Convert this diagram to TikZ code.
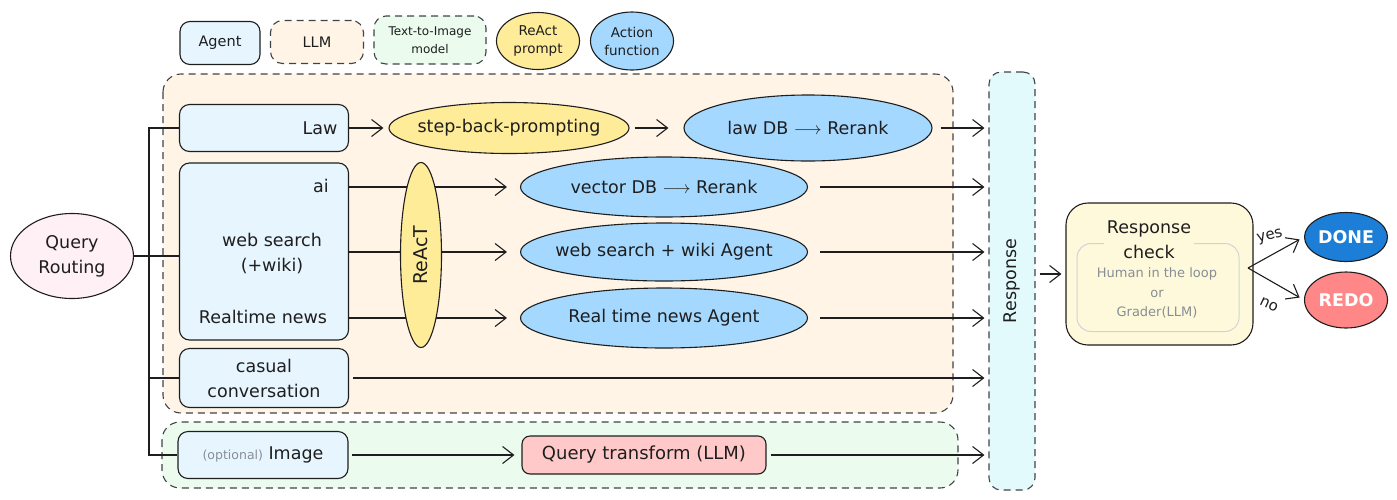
\documentclass[tikz,border=0pt]{standalone}
\usepackage{fontspec}
\setmainfont{DejaVu Sans}
\usetikzlibrary{shapes.geometric,arrows.meta}
\definecolor{ink}{HTML}{1E1E1E}
\definecolor{dashc}{HTML}{3F4449}
\definecolor{agentfill}{HTML}{E7F5FF}
\definecolor{llmfill}{HTML}{FFF4E6}
\definecolor{tifill}{HTML}{EBFBEE}
\definecolor{yelfill}{HTML}{FFEC99}
\definecolor{blufill}{HTML}{A5D8FF}
\definecolor{respfill}{HTML}{E3FAFC}
\definecolor{chkfill}{HTML}{FFF9DB}
\definecolor{qtfill}{HTML}{FFC9C9}
\definecolor{qrfill}{HTML}{FFF0F6}
\definecolor{donefill}{HTML}{1C7ED6}
\definecolor{redofill}{HTML}{FF8787}
\definecolor{greytext}{HTML}{868E96}
\definecolor{innerline}{HTML}{CED4DA}
\newcommand\fsz[2]{\fontsize{#1}{#2}\selectfont}
\tikzset{
  base/.style={draw=ink, line width=1.1pt, inner sep=0pt, text=ink, font=\fsz{17.5}{25}, align=center},
  agentbox/.style={base, rounded corners=10pt, fill=agentfill},
  llmbox/.style={base, draw=dashc, dash pattern=on 7pt off 5pt, rounded corners=12pt, fill=llmfill},
  tibox/.style={base, draw=dashc, dash pattern=on 7pt off 5pt, rounded corners=12pt, fill=tifill},
  ell/.style={base, ellipse, inner xsep=-22pt, inner ysep=-4pt},
  reactell/.style={ell, fill=yelfill},
  actell/.style={ell, fill=blufill},
  container/.style={draw=dashc, line width=1.1pt, dash pattern=on 7pt off 5pt, rounded corners=18pt},
  conn/.style={draw=ink, line width=1.1pt},
  arr/.style={conn, -{Straight Barb[length=11pt,width=17pt,line width=1.1pt]}},
  lbl/.style={inner sep=0pt, text=ink, font=\fsz{17.5}{25}, align=center},
}
\begin{document}
\begin{tikzpicture}[x=1pt,y=-1pt]
\useasboundingbox (0,0) rectangle (1397,499);
% legend
\node[agentbox, minimum width=80pt, minimum height=43pt, font=\fsz{14.5}{18}] (lgA) at (220,43) {Agent};
\node[llmbox, minimum width=93pt, minimum height=43pt, font=\fsz{14.5}{18}] (lgL) at (317,42) {LLM};
\node[tibox, minimum width=112pt, minimum height=48pt, font=\fsz{12}{18}] (lgT) at (430,40) {Text-to-Image\\model};
\node[reactell, minimum width=83pt, minimum height=57pt, font=\fsz{13.5}{18}] (lgR) at (538,41) {ReAct\\prompt};
\node[actell, minimum width=83pt, minimum height=58pt, font=\fsz{13.5}{18}] (lgF) at (632,41) {Action\\function};
% containers
\draw[container, fill=llmfill] (163,74) rectangle (953,413);
\draw[container, fill=tifill] (162,422) rectangle (958,488);
\node[base, draw=dashc, dash pattern=on 7pt off 5pt, rounded corners=12pt, fill=respfill, minimum width=46pt, minimum height=418pt] (resp) at (1012,281) {};
\node[lbl, rotate=90] (resptxt) at (1012,281) {Response};
% query routing
\node[ell, fill=qrfill, minimum width=123pt, minimum height=85pt] (qr) at (72,256) {Query\\Routing};
% agent boxes
\node[agentbox, minimum width=169pt, minimum height=47pt, text width=147pt, align=right] (law) at (264,128) {Law};
\node[agentbox, minimum width=169pt, minimum height=177pt] (big) at (264,251.5) {};
\node[lbl] (ai) at (321,186) {ai};
\node[lbl] (web) at (272,253) {web search\\(+wiki)};
\node[lbl] (news) at (263,317) {Realtime news};
\node[agentbox, minimum width=169pt, minimum height=59pt] (casual) at (264,378) {casual\\conversation};
\node[agentbox, minimum width=170pt, minimum height=47pt] (img) at (263,455) {{\color{greytext}\fsz{12.5}{14}(optional)} Image};
% tree
\coordinate (trunk) at (149,0);
\draw[conn] (qr.east) -- (qr.east -| big.west);
\draw[conn] (law.west) -- (law.west -| trunk) -- (img.west -| trunk) -- (img.west);
\draw[conn] (casual.west -| trunk) -- (casual.west);
% law row
\node[reactell, minimum width=240pt, minimum height=51pt] (sbp) at (509,128) {step-back-prompting};
\node[actell, minimum width=248pt, minimum height=66pt] (lawdb) at (808,128) {law DB $\longrightarrow$ Rerank};
\draw[arr, shorten >=5pt] (law.east) -- (sbp.west);
\draw[arr, shorten <=5pt, shorten >=15pt] (sbp.east) -- (lawdb.west);
% ReAct rows
\node[actell, minimum width=287pt, minimum height=60pt] (vdb) at (664,187) {vector DB $\longrightarrow$ Rerank};
\node[actell, minimum width=287pt, minimum height=58pt] (wsa) at (664,252) {web search + wiki Agent};
\node[actell, minimum width=287pt, minimum height=60pt] (rtn) at (664,318) {Real time news Agent};
\draw[arr, shorten >=13pt] (big.east |- vdb.west) -- (vdb.west);
\draw[arr, shorten >=13pt] (big.east |- wsa.west) -- (wsa.west);
\draw[arr, shorten >=13pt] (big.east |- rtn.west) -- (rtn.west);
\node[reactell, minimum width=41pt, minimum height=185pt] (react) at (421,255) {};
\node[lbl, rotate=90, font=\fsz{19}{22}] (reacttxt) at (421,255) {ReAcT};
% to response
\draw[arr, shorten <=8pt, shorten >=4pt] (lawdb.east) -- (lawdb.east -| resp.west);
\draw[arr, shorten <=12pt, shorten >=4pt] (vdb.east) -- (vdb.east -| resp.west);
\draw[arr, shorten <=12pt, shorten >=4pt] (wsa.east) -- (wsa.east -| resp.west);
\draw[arr, shorten <=12pt, shorten >=4pt] (rtn.east) -- (rtn.east -| resp.west);
\draw[arr, shorten <=4pt, shorten >=4pt] (casual.east) -- (casual.east -| resp.west);
% image row
\node[base, rounded corners=8pt, fill=qtfill, minimum width=244pt, minimum height=38pt, font=\fsz{18}{22}] (qt) at (644,455) {Query transform (LLM)};
\draw[arr, shorten <=3pt, shorten >=7pt] (img.east) -- (qt.west);
\draw[arr, shorten <=4pt, shorten >=4pt] (qt.east) -- (qt.east -| resp.west);
% response check
\node[base, rounded corners=22pt, fill=chkfill, minimum width=187pt, minimum height=142pt] (chk) at (1159.5,274) {};
\node[draw=innerline, line width=1pt, rounded corners=14pt, minimum width=162pt, minimum height=88pt, inner sep=0pt] (inner) at (1158,287.5) {};
\node[lbl, fill=chkfill, inner xsep=3pt, inner ysep=1pt] (chktitle) at (1149,240) {Response\\check};
\node[lbl, text=greytext, font=\fsz{13}{19.5}] (chktxt) at (1157,293) {Human in the loop\\or\\Grader(LLM)};
\draw[arr, shorten <=4pt, shorten >=4pt] (resp.east |- chk.west) -- (chk.west);
% done / redo
\node[base, ellipse, fill=donefill, minimum width=83pt, minimum height=49pt, text=white, font=\bfseries\fsz{17.5}{20}] (done) at (1346,237) {DONE};
\node[base, ellipse, fill=redofill, minimum width=83pt, minimum height=56pt, text=white, font=\bfseries\fsz{17.5}{20}] (redo) at (1346,300) {REDO};
\coordinate (fork) at (1248,268);
\draw[arr, shorten >=5pt] (fork) -- (done.west);
\draw[arr, shorten >=5pt] (fork) -- (redo.west);
\node[lbl, rotate=15, font=\fsz{15}{18}] (yes) at (1270,237) {yes};
\node[lbl, rotate=-25, font=\fsz{15}{18}] (no) at (1269,305) {no};
\end{tikzpicture}
\end{document}
